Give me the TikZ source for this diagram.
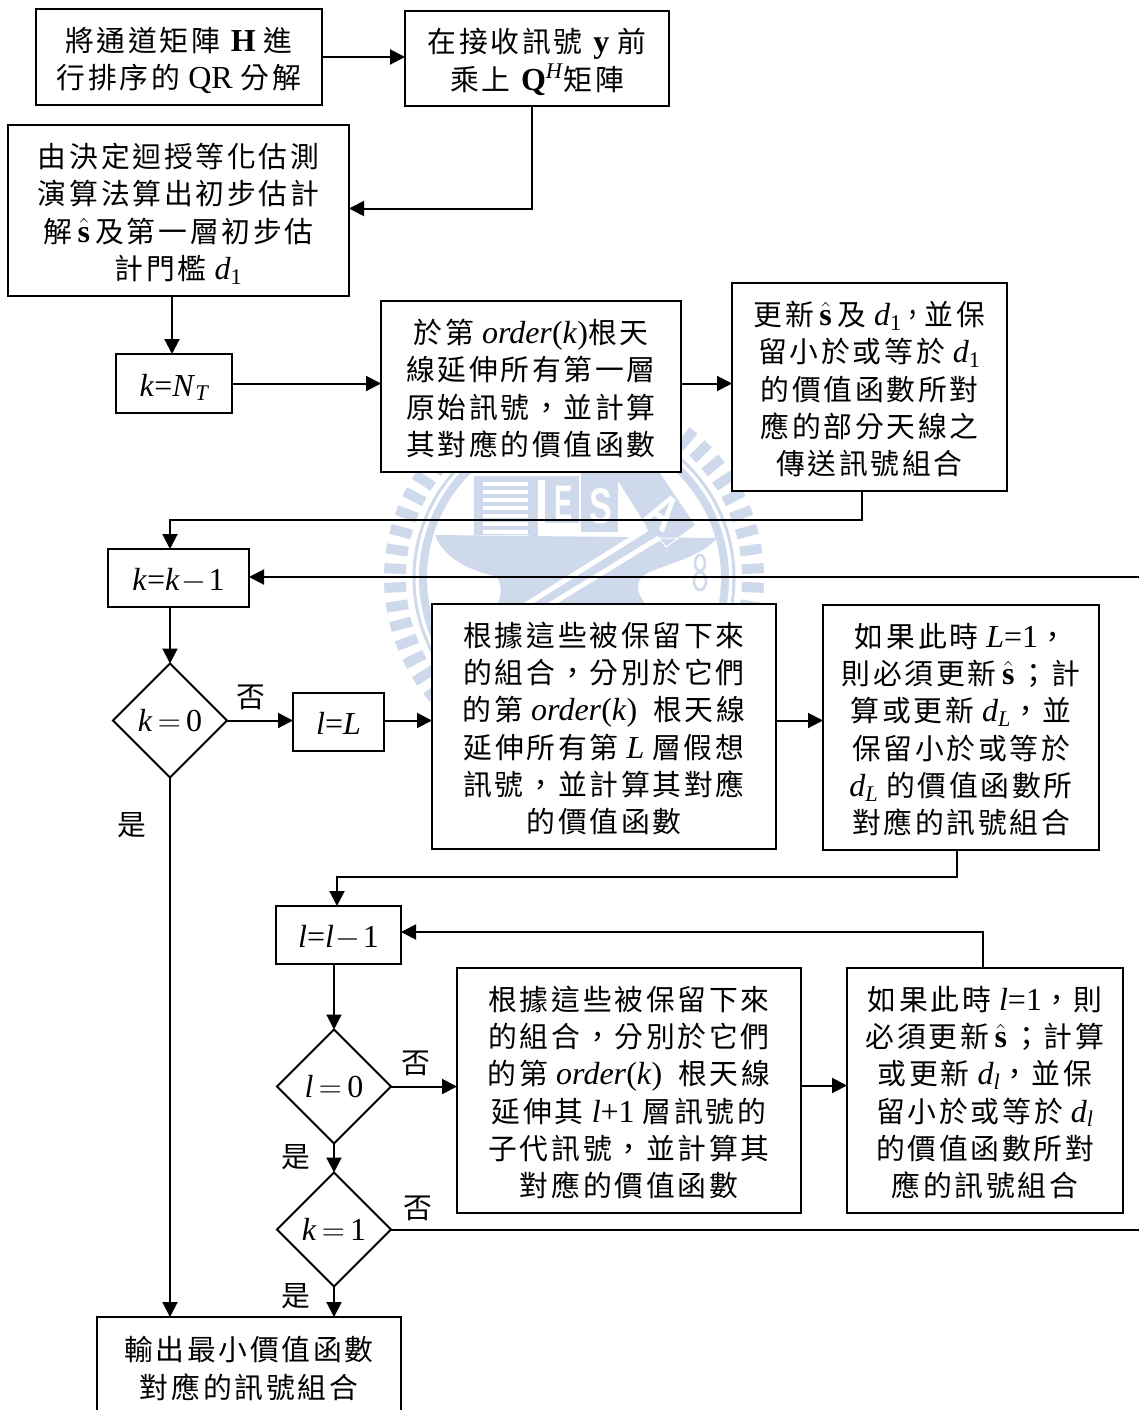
\documentclass[tikz,border=0pt]{standalone}
\usepackage{fix-cm}
\usepackage{amsmath}
\usepackage{fontspec}
\usepackage{xcolor}
\usepackage{tikz}
\usetikzlibrary{arrows.meta, calc, shapes.geometric}

\setmainfont{Liberation Serif}
\newfontfamily\cjk[Scale=0.9, LetterSpace=9.5]{Noto Sans CJK TC}
\newfontfamily\logofont{Liberation Sans}
\newcommand{\zh}[1]{{\cjk #1}}
\newcommand{\hats}{\,$\hat{\text{\bfseries s}}$\,}
\newcommand{\dsub}[1]{\textit{d}$_{\text{#1}}$}
\newcommand{\upstrut}{\rule{0pt}{31pt}}
\newcommand{\boxfont}{\fontsize{32}{37.2}\selectfont\lineskiplimit=-30pt}
\definecolor{logoblue}{HTML}{CFD9EC}

\tikzset{
    flowbox/.style={draw, fill=white, line width=2pt, align=center, inner sep=0pt, outer sep=0pt, font=\boxfont,
        execute at end node={\rule[-5pt]{0pt}{5pt}}},
    shortbox/.style={flowbox, execute at begin node={\rule{0pt}{30pt}}},
    textbox/.style={flowbox},
    decision/.style={draw, fill=white, diamond, aspect=1, line width=2pt, inner sep=0pt, outer sep=0pt,
        minimum width=114pt, minimum height=114pt, font=\boxfont},
    answer/.style={inner sep=0pt, font=\boxfont},
    logoletter/.style={inner sep=0pt, text=white, transform shape, font=\logofont\bfseries\fontsize{50}{50}\selectfont}
}

\begin{document}
\begin{tikzpicture}[>={Triangle[length=15pt,width=15pt]}, x=1pt, y=-1pt]
    \clip (0,0) rectangle (1139,1410);

    % 校徽浮水印
    \begin{scope}[shift={(574,578)}]
        \foreach \a in {3,9,...,357} {
            \draw[line width=10pt, logoblue] (\a:168) -- (\a:190);
        }
        \draw[line width=8pt, logoblue] (0,0) circle (151);
        \draw[line width=3pt, logoblue] (0,0) circle (160);
    \end{scope}
    \fill[logoblue] (435,535) -- (717,538) .. controls (705,555) and (665,565) .. (647,573)
        .. controls (635,580) and (635,592) .. (647,606) -- (497,606)
        .. controls (502,595) and (502,585) .. (497,577) .. controls (470,570) and (445,560) .. (435,535) -- cycle;
    % 校舍
    \fill[logoblue] (474,476) rectangle (529,535);
    \fill[logoblue] (529,476) rectangle (538,537);
    \fill[logoblue] (538,476) rectangle (545,480);
    \foreach \y in {484,492,...,532} {
        \draw[line width=4pt, white] (483,\y) -- (528,\y);
    }
    \fill[logoblue] (545,476) rectangle (579,523);
    \fill[logoblue] (581,473) rectangle (618,532);
    \node[logoletter, xscale=.55] (letterE) at (564,503) {E};
    \node[logoletter, xscale=.68] (letterS) at (601,506) {S};
    % 鎚子
    \fill[logoblue] (613,473) -- (660,473) -- (695,525) -- (665,547) -- (647,527) -- cycle;
    \fill[logoblue] (524,606) -- (647,527) -- (657,538) -- (548,606) -- cycle;
    \draw[line width=5pt, white] (524,606) -- (647,529);
    \draw[line width=5pt, white] (548,606) -- (659,538);
    \draw[line width=1pt, white] (659,538) -- (678,538) -- (666,547) -- cycle;
    \node[logoletter, rotate=-35, xscale=.75] (letterA) at (663,512) {A};
    \draw[line width=2.5pt, logoblue] (700,563) ellipse (5 and 8) (700,581) ellipse (6 and 9);

    % 方塊
    \node[textbox, minimum width=286pt, minimum height=96pt] (qr) at (179,57)
        {\upstrut\zh{將通道矩陣} \textbf{H} \zh{進}\\\zh{行排序的} QR \zh{分解}};
    \node[textbox, minimum width=264pt, minimum height=95pt] (recv) at (537,58.5)
        {\upstrut\zh{在接收訊號} \textbf{y} \zh{前}\\\zh{乘上} \textbf{Q}\textsuperscript{\textit{H}}\zh{矩陣}};
    \node[textbox, minimum width=341pt, minimum height=171pt] (init) at (178.5,210.5)
        {\upstrut\zh{由決定迴授等化估測}\\\zh{演算法算出初步估計}\\\zh{解}\hats\zh{及第一層初步估}\\\zh{計門檻} \dsub{1}};
    \node[shortbox, minimum width=116pt, minimum height=59pt] (kstart) at (174,383.5)
        {\textit{k}=\textit{N}$_{\text{\itshape T}}$};
    \node[textbox, minimum width=300pt, minimum height=171pt] (first) at (531,386.5)
        {\upstrut\zh{於第} \textit{order}(\textit{k})\zh{根天}\\\zh{線延伸所有第一層}\\\zh{原始訊號，並計算}\\\zh{其對應的價值函數}};
    \node[textbox, minimum width=275pt, minimum height=208pt] (upda) at (869.5,387)
        {\upstrut\zh{更新}\hats\zh{及} \dsub{1}\scalebox{.8}[1]{\zh{，}}\zh{並保}\\\zh{留小於或等於} \dsub{1}\\\zh{的價值函數所對}\\\zh{應的部分天線之}\\\zh{傳送訊號組合}};
    \node[shortbox, minimum width=141pt, minimum height=58pt] (kdec) at (178.5,578)
        {\textit{k}=\textit{k}\kern2pt$-$\kern2pt1};
    \node[decision] (kzero) at (170,720.5) {\textit{k}\,$=$\,0};
    \node[shortbox, minimum width=91pt, minimum height=58pt] (lstart) at (338.5,722)
        {\textit{l}=\textit{L}};
    \node[textbox, minimum width=344pt, minimum height=245pt] (exta) at (604,726.5)
        {\upstrut\zh{根據這些被保留下來}\\\zh{的組合，分別於它們}\\\zh{的第} \textit{order}(\textit{k})~~\zh{根天線}\\\zh{延伸所有第} \textit{L} \zh{層假想}\\\zh{訊號，並計算其對應}\\\zh{的價值函數}};
    \node[textbox, minimum width=276pt, minimum height=245pt] (updb) at (961,727.5)
        {\upstrut\zh{如果此時} \textit{L}=1\zh{，}\\\zh{則必須更新}\hats\zh{；計}\\\zh{算或更新} \dsub{\itshape L}\zh{，並}\\\zh{保留小於或等於}\\\dsub{\itshape L} \zh{的價值函數所}\\\zh{對應的訊號組合}};
    \node[shortbox, minimum width=125pt, minimum height=58pt] (ldec) at (338.5,935)
        {\textit{l}=\textit{l}\kern2pt$-$\kern2pt1};
    \node[decision] (lzero) at (334,1086.5) {\textit{l}\,$=$\,0};
    \node[textbox, minimum width=344pt, minimum height=245pt] (extb) at (629,1090.5)
        {\upstrut\zh{根據這些被保留下來}\\\zh{的組合，分別於它們}\\\zh{的第} \textit{order}(\textit{k})~~\zh{根天線}\\\zh{延伸其} \textit{l}+1 \zh{層訊號的}\\\zh{子代訊號，並計算其}\\\zh{對應的價值函數}};
    \node[textbox, minimum width=276pt, minimum height=245pt] (updc) at (985,1090.5)
        {\upstrut\zh{如果此時} \textit{l}=1\zh{，則}\\\zh{必須更新}\hats\zh{；計算}\\\zh{或更新} \dsub{\itshape l}\zh{，並保}\\\zh{留小於或等於} \dsub{\itshape l}\\\zh{的價值函數所對}\\\zh{應的訊號組合}};
    \node[decision] (kone) at (334,1229.5) {\textit{k}\,$=$\,1};
    \node[textbox, minimum width=304pt, minimum height=99pt] (out) at (249,1366.5)
        {\upstrut\zh{輸出最小價值函數}\\\zh{對應的訊號組合}};

    % 是否
    \node[answer] (noa) at (251,697) {\zh{否}};
    \node[answer] (yesa) at (132,825) {\zh{是}};
    \node[answer] (nob) at (416,1063) {\zh{否}};
    \node[answer] (yesb) at (296,1157) {\zh{是}};
    \node[answer] (noc) at (418,1208) {\zh{否}};
    \node[answer] (yesc) at (296,1296) {\zh{是}};

    % 右側連接
    \coordinate (backin) at (1139,577);
    \coordinate (backout) at (1139,1229.5);

    % 連線
    \draw[->, line width=2pt] (qr.east) -- (qr.east -| recv.west);
    \draw[->, line width=2pt] ([xshift=-5pt]recv.south) |- ([yshift=2pt]init.east);
    \draw[->, line width=2pt] ([xshift=-2pt]init.south -| kstart.north) -- ([xshift=-2pt]kstart.north);
    \draw[->, line width=2pt] (kstart.east) -- (kstart.east -| first.west);
    \draw[->, line width=2pt] ([yshift=3pt]first.east) -- ([yshift=3pt]first.east -| upda.west);
    \draw[->, line width=2pt] ([xshift=-7.5pt]upda.south) |- (520,520) -| (kzero.north |- kdec.north);
    \draw[->, line width=2pt] (kdec.south -| kzero.north) -- (kzero.north);
    \draw[->, line width=2pt] (backin) -- (backin -| kdec.east);
    \draw[->, line width=2pt] (kzero.east) -- (kzero.east -| lstart.west);
    \draw[->, line width=2pt] (lstart.east |- kzero.east) -- (kzero.east -| exta.west);
    \draw[->, line width=2pt] (exta.east |- kzero.east) -- (kzero.east -| updb.west);
    \draw[->, line width=2pt] ([xshift=-4pt]updb.south) |- (337,877) -- (337,906);
    \draw[->, line width=2pt] (ldec.south -| lzero.north) -- (lzero.north);
    \draw[->, line width=2pt] ([xshift=-2pt]updc.north) |- ([yshift=3pt]ldec.east);
    \draw[->, line width=2pt] (lzero.east) -- (lzero.east -| extb.west);
    \draw[->, line width=2pt] ([yshift=5pt]extb.east) -- ([yshift=5pt]extb.east -| updc.west);
    \draw[->, line width=2pt] (lzero.south) -- (kone.north);
    \draw[->, line width=2pt] (kone.south) -- (kone.south |- out.north);
    \draw[->, line width=2pt] (kzero.south) -- (kzero.south |- out.north);
    \draw[line width=2pt] (kone.east) -- (backout);
\end{tikzpicture}
\end{document}
